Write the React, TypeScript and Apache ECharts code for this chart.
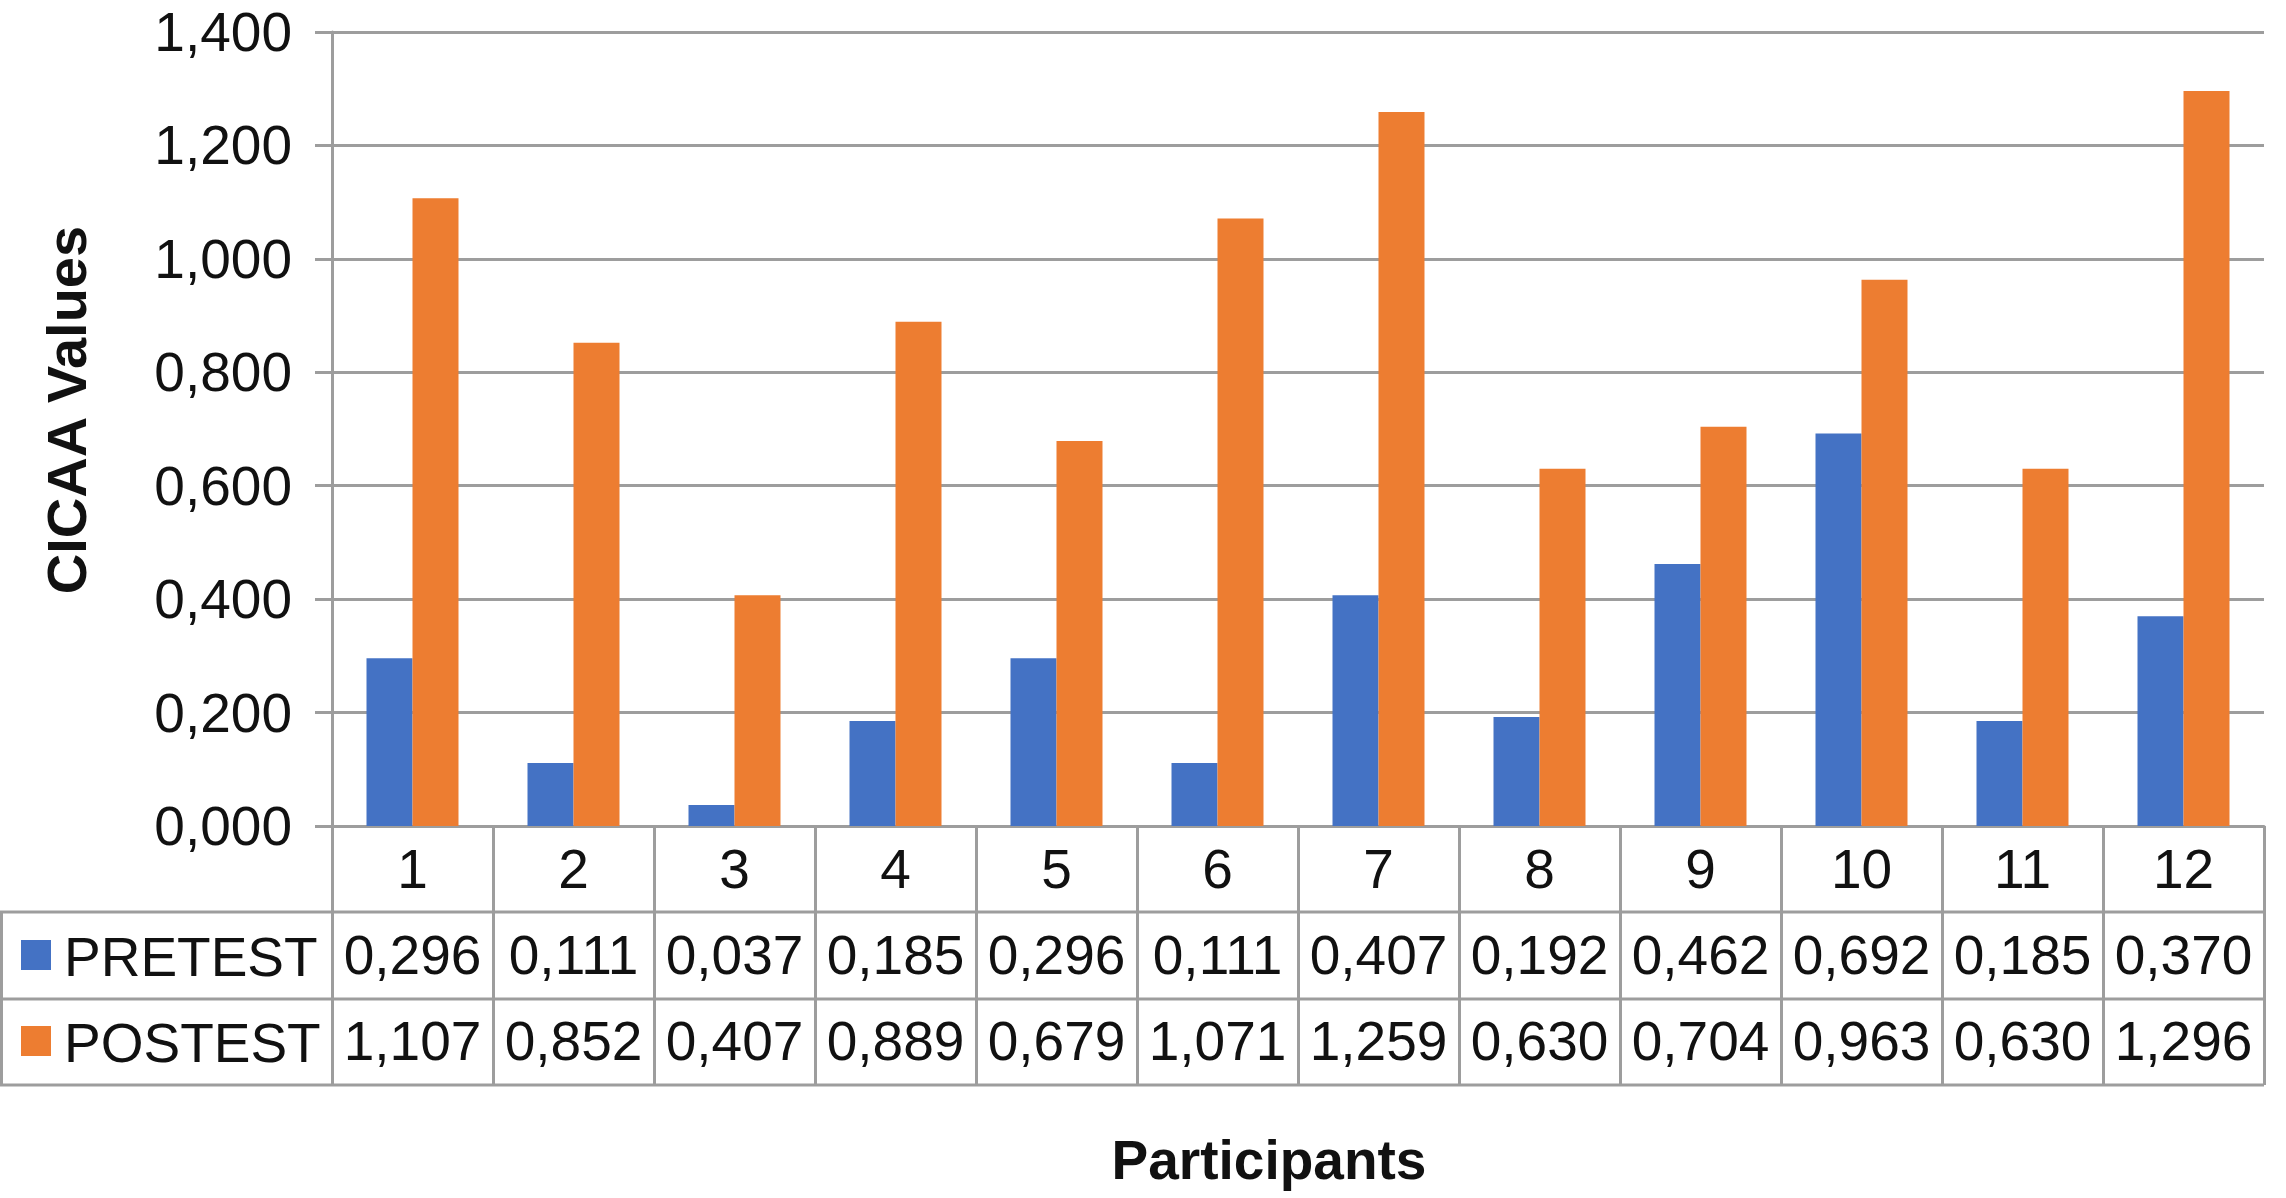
import React, { useEffect, useRef } from "react";
import * as echarts from "echarts";

const categories = ["1", "2", "3", "4", "5", "6", "7", "8", "9", "10", "11", "12"];
const pretest = [0.296, 0.111, 0.037, 0.185, 0.296, 0.111, 0.407, 0.192, 0.462, 0.692, 0.185, 0.37];
const posttest = [1.107, 0.852, 0.407, 0.889, 0.679, 1.071, 1.259, 0.63, 0.704, 0.963, 0.63, 1.296];
const seriesNames = ["PRETEST", "POSTEST"];
const yTitle = "CICAA Values";
const xTitle = "Participants";

const BLUE = "#4472C4";
const ORANGE = "#ED7D31";
const GRAY = "#9d9d9d";
const TXT = "#111111";
const FONT = "'Liberation Sans', Arial, Helvetica, sans-serif";

const fmt = (v: number) => v.toFixed(3).replace(".", ",");

export default function App() {
  const ref = useRef<HTMLDivElement>(null);
  useEffect(() => {
    if (!ref.current) return;
    const chart = echarts.init(ref.current, null, { renderer: "svg" });
    const gridLeft = 332;
    const gridTop = 32;
    const gridW = 1932;
    const gridH = 794;
    const axisY = gridTop + gridH;
    const rowH = 86;
    const right = gridLeft + gridW;
    const row1 = axisY + rowH;
    const row2 = row1 + rowH + 1;
    const row3 = row2 + rowH;
    const lineStyle = { stroke: GRAY, lineWidth: 3 };
    chart.setOption({
      animation: false,
      backgroundColor: "#ffffff",
      textStyle: { fontFamily: FONT },
      grid: { left: gridLeft, top: gridTop, width: gridW, height: gridH, containLabel: false },
      xAxis: {
        type: "category",
        data: categories,
        boundaryGap: true,
        axisLine: { show: true, lineStyle: { color: GRAY, width: 3 } },
        axisTick: { show: true, interval: 0, alignWithLabel: false, length: rowH * 3 + 1, lineStyle: { color: GRAY, width: 3 } },
        splitLine: { show: false },
        axisLabel: {
          interval: 0,
          margin: 0,
          formatter: (v: string, i: number) => `{c|${v}}\n{d|${fmt(pretest[i])}}\n{d|${fmt(posttest[i])}}`,
          rich: {
            c: { fontSize: 55, lineHeight: rowH, color: TXT, fontFamily: FONT },
            d: { fontSize: 55, lineHeight: rowH, color: TXT, fontFamily: FONT },
          },
        },
      },
      yAxis: {
        type: "value",
        min: 0,
        max: 1.4,
        interval: 0.2,
        axisLine: { show: true, lineStyle: { color: GRAY, width: 3 } },
        axisTick: { show: true, length: 17, lineStyle: { color: GRAY, width: 3 } },
        splitLine: { show: true, lineStyle: { color: GRAY, width: 3 } },
        axisLabel: { margin: 40, fontSize: 55, color: TXT, fontFamily: FONT, formatter: (v: number) => fmt(v) },
      },
      series: [
        {
          name: seriesNames[0],
          type: "bar",
          data: pretest,
          itemStyle: { color: BLUE },
          barGap: "0%",
          barCategoryGap: "42.86%",
        },
        {
          name: seriesNames[1],
          type: "bar",
          data: posttest,
          itemStyle: { color: ORANGE },
          barGap: "0%",
          barCategoryGap: "42.86%",
        },
      ],
      graphic: [
        { type: "line", shape: { x1: 0, y1: row1, x2: right, y2: row1 }, style: lineStyle, z: 10 },
        { type: "line", shape: { x1: 0, y1: row2, x2: right, y2: row2 }, style: lineStyle, z: 10 },
        { type: "line", shape: { x1: 0, y1: row3, x2: right, y2: row3 }, style: lineStyle, z: 10 },
        { type: "line", shape: { x1: 1.5, y1: row1, x2: 1.5, y2: row3 }, style: lineStyle, z: 10 },
        { type: "rect", shape: { x: 21, y: 940, width: 30, height: 30 }, style: { fill: BLUE } },
        { type: "rect", shape: { x: 21, y: 1026, width: 30, height: 30 }, style: { fill: ORANGE } },
        {
          type: "text",
          x: 64,
          y: 957,
          style: { text: seriesNames[0], fontSize: 55, fontFamily: FONT, fill: TXT, verticalAlign: "middle", align: "left" },
        },
        {
          type: "text",
          x: 64,
          y: 1043,
          style: { text: seriesNames[1], fontSize: 55, fontFamily: FONT, fill: TXT, verticalAlign: "middle", align: "left" },
        },
        {
          type: "text",
          x: 66,
          y: 410,
          rotation: Math.PI / 2,
          style: { text: yTitle, fontSize: 56, fontWeight: "bold", fontFamily: FONT, fill: TXT, verticalAlign: "middle", align: "center" },
        },
        {
          type: "text",
          x: 1269,
          y: 1160,
          style: { text: xTitle, fontSize: 55, fontWeight: "bold", fontFamily: FONT, fill: TXT, verticalAlign: "middle", align: "center" },
        },
      ],
    });
    return () => chart.dispose();
  }, []);
  return <div ref={ref} style={{ position: "fixed", left: 0, top: 0, width: 2286, height: 1198, background: "#fff" }} />;
}
